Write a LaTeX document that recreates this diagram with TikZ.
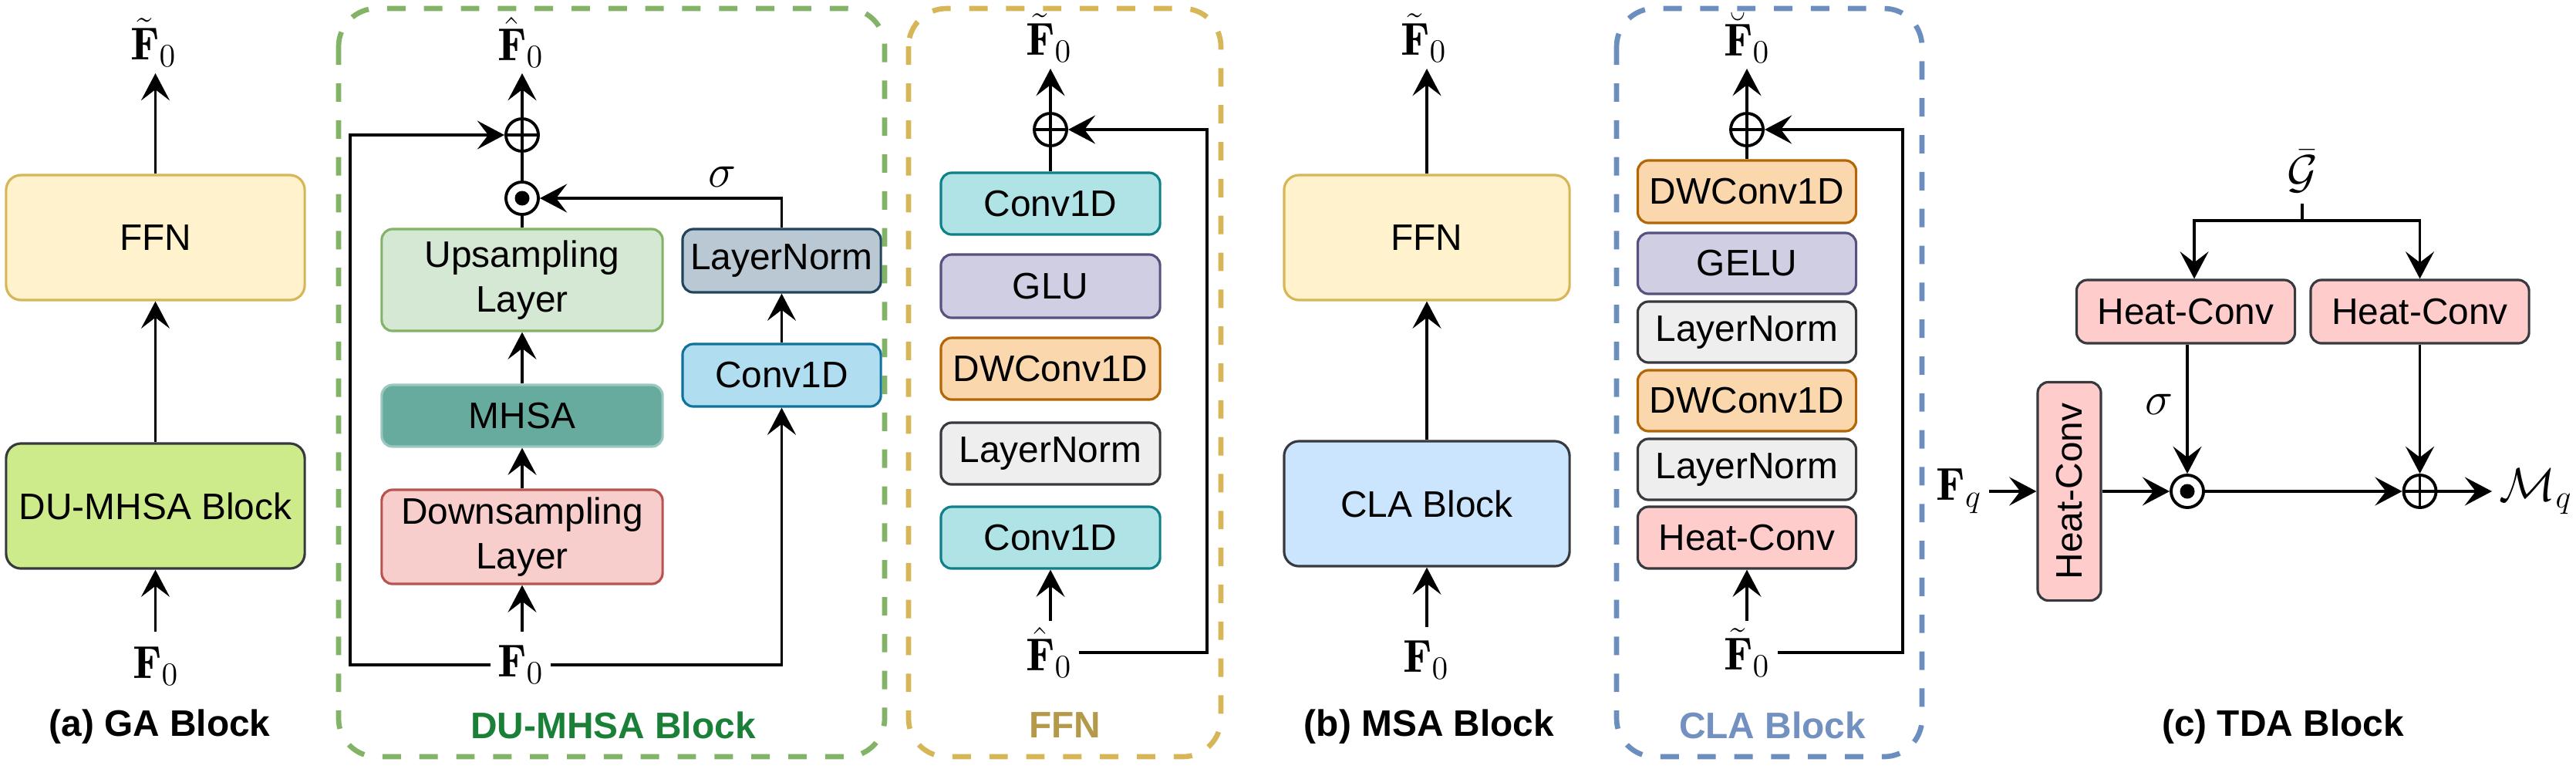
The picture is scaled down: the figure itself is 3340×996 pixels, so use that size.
\documentclass[tikz,border=0pt]{standalone}
\usepackage{fontspec}
\usepackage{amsmath}
\usepackage{graphicx}
\newfontfamily\arialf{Liberation Sans}
\usetikzlibrary{arrows.meta,calc}
\definecolor{ffnF}{HTML}{FFF2CC}\definecolor{ffnD}{HTML}{D6B656}
\definecolor{duF}{HTML}{CDEB8B}\definecolor{dkD}{HTML}{36393D}
\definecolor{upF}{HTML}{D5E8D4}\definecolor{upD}{HTML}{82B366}
\definecolor{mhF}{HTML}{67AB9F}\definecolor{mhD}{HTML}{9AC7BF}
\definecolor{dnF}{HTML}{F8CECC}\definecolor{dnD}{HTML}{B85450}
\definecolor{lnbF}{HTML}{BAC8D3}\definecolor{lnbD}{HTML}{23445D}
\definecolor{cbF}{HTML}{B1DDF0}\definecolor{cbD}{HTML}{10739E}
\definecolor{ctF}{HTML}{B0E3E6}\definecolor{ctD}{HTML}{0E8088}
\definecolor{glF}{HTML}{D0CEE2}\definecolor{glD}{HTML}{56517E}
\definecolor{dwF}{HTML}{FAD7AC}\definecolor{dwD}{HTML}{B46504}
\definecolor{lnF}{HTML}{EEEEEE}
\definecolor{hcF}{HTML}{FFCCCC}
\definecolor{clF}{HTML}{CCE5FF}
\definecolor{gDash}{HTML}{82B366}\definecolor{yDash}{HTML}{D6B656}\definecolor{bDash}{HTML}{6C8EBF}
\definecolor{gTxt}{HTML}{1A7F37}\definecolor{yTxt}{HTML}{B5994B}\definecolor{bTxt}{HTML}{7391C0}
\tikzset{
  sansf/.style={font=\arialf\fontsize{13.6}{16.5}\selectfont},
  box/.style={draw, line width=0.9pt, rounded corners=4pt, inner sep=0pt, align=center, sansf},
  bigbox/.style={box, rounded corners=5.5pt},
  sz/.style 2 args={minimum width=#1, minimum height=#2},
  mlab/.style={inner sep=2.5pt, font=\fontsize{17}{20}\selectfont},
  tit/.style={inner sep=0pt, font=\arialf\bfseries\fontsize{13.6}{16}\selectfont},
  ln/.style={line width=1.1pt},
  arr/.style={ln, -{Stealth[length=10pt,width=10.5pt,inset=4pt]}},
  dbox/.style={line width=1.9pt, dash pattern=on 6.8pt off 6.8pt, rounded corners=14pt},
  opl/.style={circle, draw, line width=1.1pt, minimum size=0.42cm, inner sep=0pt, fill=white,
     path picture={\draw[black, line width=1.1pt] (path picture bounding box.north) -- (path picture bounding box.south) (path picture bounding box.west) -- (path picture bounding box.east);}},
  odt/.style={circle, draw, line width=1.1pt, minimum size=0.42cm, inner sep=0pt, fill=white,
     path picture={\fill[black] (path picture bounding box.center) circle (0.095cm);}},
}
\begin{document}
\begin{tikzpicture}[x=0.01cm,y=-0.01cm]
\useasboundingbox (0,0) rectangle (3340,996);
% ---------------- (a) GA Block
\node[bigbox, fill=ffnF, draw=ffnD, sz={3.87cm}{1.62cm}] (a_ffn) at (201.5,308) {FFN};
\node[bigbox, fill=duF, draw=dkD, sz={3.87cm}{1.62cm}] (a_du) at (201.5,656) {DU-MHSA Block};
\node[mlab] (a_top) at (199,55) {$\tilde{\mathbf{F}}_0$};
\node[mlab] (a_f0) at (202,864) {$\mathbf{F}_0$};
\coordinate (a_out) at (201.5,95);
\coordinate (a_in) at (201.5,819);
\draw[arr] (a_ffn.north) -- (a_out);
\draw[arr] (a_du.north) -- (a_ffn.south);
\draw[arr] (a_in) -- (a_du.south);
\node[tit] (a_tit) at (207,942) {(a) GA Block};
% ---------------- DU-MHSA Block
\draw[dbox, draw=gDash] (439,11) rectangle (1147,981);
\node[box, fill=upF, draw=upD, sz={3.64cm}{1.32cm}] (du_up) at (677,363) {Upsampling\\Layer};
\node[box, fill=mhF, draw=mhD, sz={3.64cm}{0.80cm}] (du_mh) at (677,539) {MHSA};
\node[box, fill=dnF, draw=dnD, sz={3.64cm}{1.22cm}] (du_dn) at (677,696) {Downsampling\\Layer};
\node[box, fill=lnbF, draw=lnbD, sz={2.57cm}{0.82cm}] (du_ln) at (1013.5,338) {LayerNorm};
\node[box, fill=cbF, draw=cbD, sz={2.57cm}{0.81cm}] (du_cv) at (1013.5,486.5) {Conv1D};
\node[odt] (du_dot) at (677,257) {};
\node[opl] (du_pl) at (677,175) {};
\node[mlab] (du_top) at (675,55) {$\hat{\mathbf{F}}_0$};
\node[mlab] (du_f0) at (675,862) {$\mathbf{F}_0$};
\node[mlab] (du_sig) at (936,229) {$\sigma$};
\coordinate (du_out) at (677,95);
\coordinate (du_in) at (677,819);
\coordinate (du_lt) at (454,175);
\draw[arr] (du_in) -- (du_dn.south);
\draw[arr] (du_dn.north) -- (du_mh.south);
\draw[arr] (du_mh.north) -- (du_up.south);
\draw[ln] (du_up.north) -- (du_dot.south);
\draw[ln] (du_dot.north) -- (du_pl.south);
\draw[arr] (du_pl.north) -- (du_out);
\draw[arr] (du_f0.west) -| (du_lt) -- (du_pl);
\draw[arr] (du_f0.east) -| (du_cv.south);
\draw[arr] (du_cv.north) -- (du_ln.south);
\draw[arr] (du_ln.north) |- (du_dot);
\node[tit, text=gTxt] (du_tit) at (795,940) {DU-MHSA Block};
% ---------------- FFN
\draw[dbox, draw=yDash] (1178,11) rectangle (1583,981);
\node[box, fill=ctF, draw=ctD, sz={2.84cm}{0.80cm}] (f_c2) at (1362,264) {Conv1D};
\node[box, fill=glF, draw=glD, sz={2.84cm}{0.82cm}] (f_gl) at (1362,371) {GLU};
\node[box, fill=dwF, draw=dwD, sz={2.84cm}{0.80cm}] (f_dw) at (1362,478) {DWConv1D};
\node[box, fill=lnF, draw=dkD, sz={2.84cm}{0.80cm}] (f_ln) at (1362,588) {LayerNorm};
\node[box, fill=ctF, draw=ctD, sz={2.84cm}{0.80cm}] (f_c1) at (1362,697) {Conv1D};
\node[opl] (f_pl) at (1362,168) {};
\node[mlab] (f_top) at (1360,49) {$\tilde{\mathbf{F}}_0$};
\node[mlab] (f_f0) at (1360,846) {$\hat{\mathbf{F}}_0$};
\coordinate (f_out) at (1362,89);
\coordinate (f_in) at (1362,805);
\coordinate (f_rt) at (1565,168);
\draw[arr] (f_in) -- (f_c1.south);
\draw[ln] (f_c2.north) -- (f_pl.south);
\draw[arr] (f_pl.north) -- (f_out);
\draw[arr] (f_f0.east) -| (f_rt) -- (f_pl);
\node[tit, text=yTxt] (f_tit) at (1381,940) {FFN};
% ---------------- (b) MSA Block
\node[bigbox, fill=ffnF, draw=ffnD, sz={3.70cm}{1.62cm}] (b_ffn) at (1850,308) {FFN};
\node[bigbox, fill=clF, draw=dkD, sz={3.70cm}{1.62cm}] (b_cla) at (1850,653) {CLA Block};
\node[mlab] (b_top) at (1846,49) {$\tilde{\mathbf{F}}_0$};
\node[mlab] (b_f0) at (1849,856) {$\mathbf{F}_0$};
\coordinate (b_out) at (1850,89);
\coordinate (b_in) at (1850,813);
\draw[arr] (b_ffn.north) -- (b_out);
\draw[arr] (b_cla.north) -- (b_ffn.south);
\draw[arr] (b_in) -- (b_cla.south);
\node[tit] (b_tit) at (1853,942) {(b) MSA Block};
% ---------------- CLA Block
\draw[dbox, draw=bDash] (2096,11) rectangle (2492,981);
\node[box, fill=dwF, draw=dwD, sz={2.83cm}{0.81cm}] (c_dw2) at (2265,248.5) {DWConv1D};
\node[box, fill=glF, draw=glD, sz={2.83cm}{0.79cm}] (c_ge) at (2265,341.5) {GELU};
\node[box, fill=lnF, draw=dkD, sz={2.83cm}{0.79cm}] (c_ln2) at (2265,430.5) {LayerNorm};
\node[box, fill=dwF, draw=dwD, sz={2.83cm}{0.79cm}] (c_dw1) at (2265,519.5) {DWConv1D};
\node[box, fill=lnF, draw=dkD, sz={2.83cm}{0.79cm}] (c_ln1) at (2265,608.5) {LayerNorm};
\node[box, fill=hcF, draw=dkD, sz={2.83cm}{0.80cm}] (c_hc) at (2265,697) {Heat-Conv};
\node[opl] (c_pl) at (2265,168) {};
\node[mlab] (c_top) at (2265,49) {$\breve{\mathbf{F}}_0$};
\node[mlab] (c_f0) at (2265,846) {$\tilde{\mathbf{F}}_0$};
\coordinate (c_out) at (2265,89);
\coordinate (c_in) at (2265,805);
\coordinate (c_rt) at (2467,168);
\draw[arr] (c_in) -- (c_hc.south);
\draw[ln] (c_dw2.north) -- (c_pl.south);
\draw[arr] (c_pl.north) -- (c_out);
\draw[arr] (c_f0.east) -| (c_rt) -- (c_pl);
\node[tit, text=bTxt] (c_tit) at (2298,940) {CLA Block};
% ---------------- (c) TDA Block
\node[box, fill=hcF, draw=dkD, sz={2.83cm}{0.82cm}] (t_hc1) at (2834,404) {Heat-Conv};
\node[box, fill=hcF, draw=dkD, sz={2.83cm}{0.82cm}] (t_hc2) at (3137.5,404) {Heat-Conv};
\node[box, fill=hcF, draw=dkD, sz={0.82cm}{2.83cm}] (t_hc0) at (2683,637) {\rotatebox{90}{Heat-Conv}};
\node[odt] (t_dot) at (2836,637) {};
\node[opl] (t_pl) at (3137.5,637) {};
\node[mlab] (t_g) at (2985,222) {$\bar{\mathcal{G}}$};
\node[mlab] (t_fq) at (2540,637) {$\mathbf{F}_q$};
\node[mlab, anchor=west] (t_mq) at (3231,637) {$\mathcal{M}_q$};
\node[mlab] (t_sig) at (2799,524) {$\sigma$};
\coordinate (t_gs) at (2985,264);
\coordinate (t_gj) at (2985,286);
\draw[ln] (t_gs) -- (t_gj);
\draw[arr] (t_gj) -| ([xshift=0.11cm]t_hc1.north);
\draw[arr] (t_gj) -| (t_hc2.north);
\draw[arr] (t_hc1.south -| t_dot) -- (t_dot);
\draw[arr] (t_hc2.south) -- (t_pl);
\draw[arr] (t_fq.east) -- (t_hc0.west);
\draw[arr] (t_hc0.east) -- (t_dot);
\draw[arr] (t_dot) -- (t_pl);
\draw[arr] (t_pl) -- (t_mq.west);
\node[tit] (t_tit) at (2960,942) {(c) TDA Block};
\end{tikzpicture}
\end{document}
